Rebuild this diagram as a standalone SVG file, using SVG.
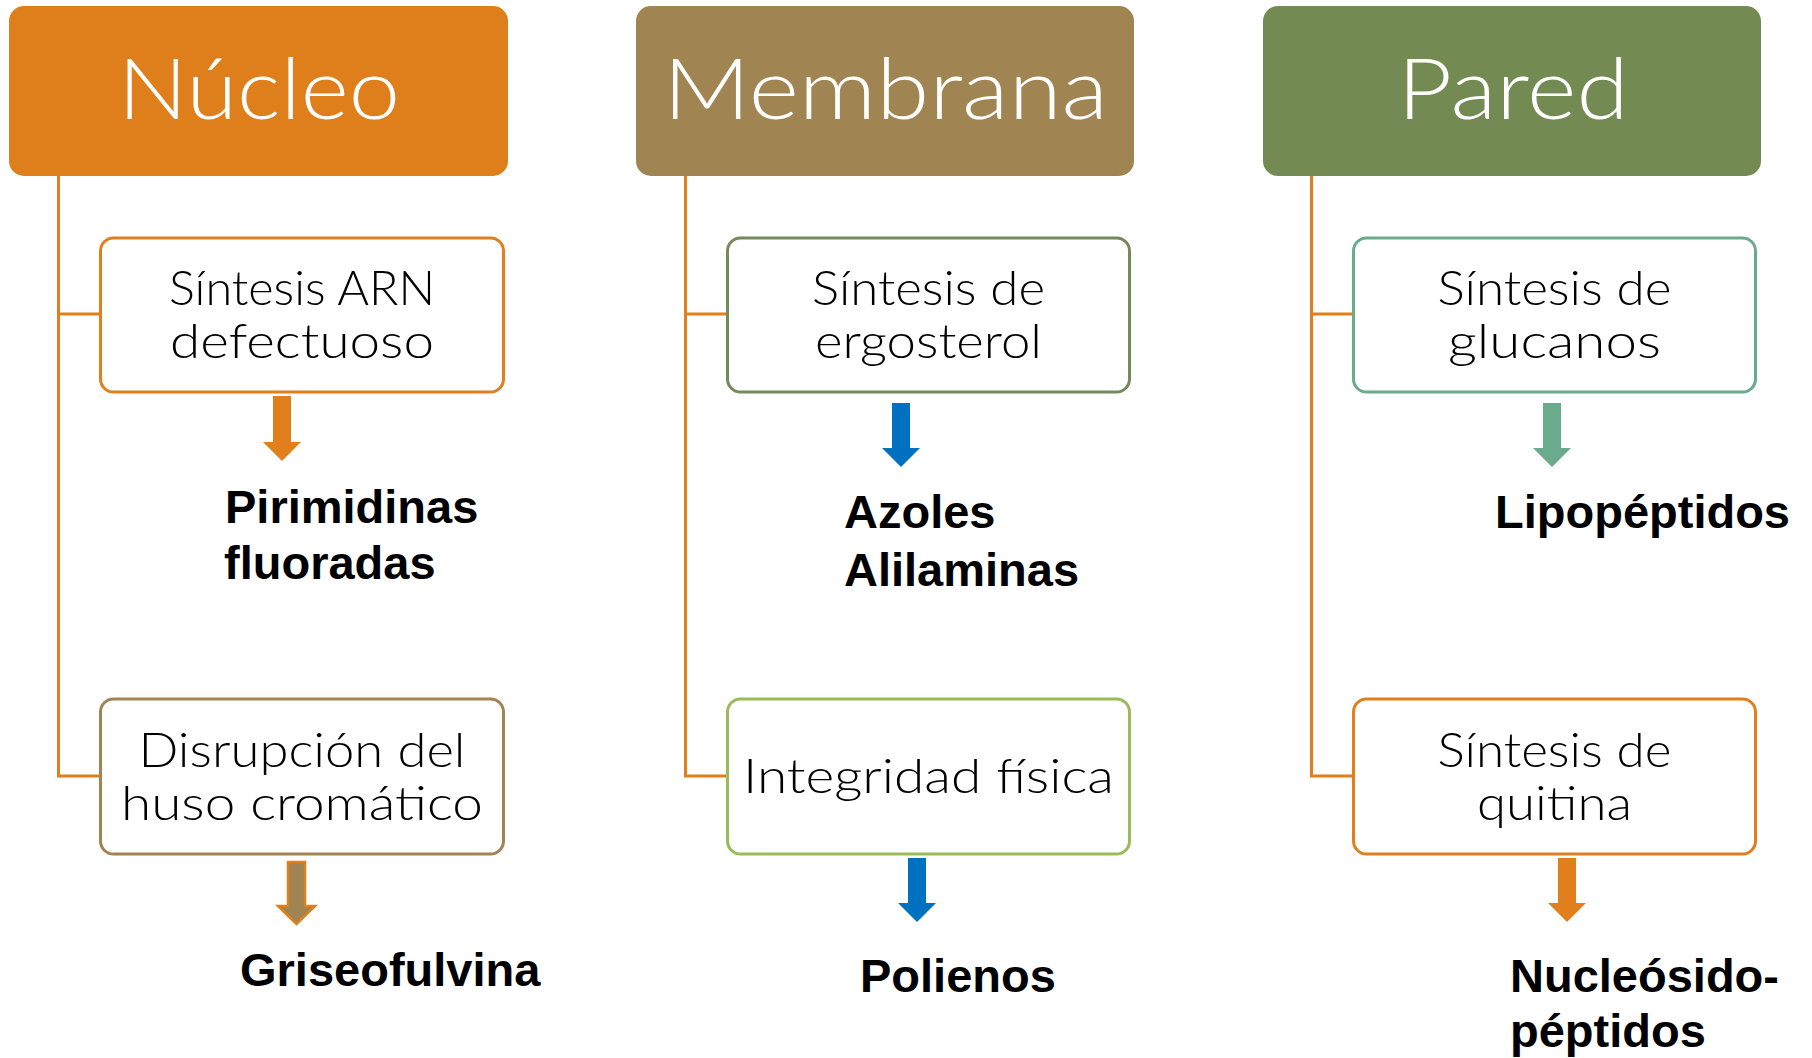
<svg xmlns="http://www.w3.org/2000/svg" width="1812" height="1058" viewBox="0 0 1812 1058">
<style>
.hdr{stroke:none}
.hdrtxt{font-family:Lato,"DejaVu Sans",sans-serif;font-size:84px;font-weight:300;fill:#ffffff;text-anchor:middle}
.box{fill:#ffffff;stroke-width:3}
.btxt{font-family:Lato,"Liberation Sans",sans-serif;font-size:48px;font-weight:300;fill:#000000;text-anchor:middle}
.drug{font-family:"Liberation Sans",Arial,sans-serif;font-size:47px;font-weight:bold;fill:#000000}
.tree{fill:none;stroke:#E07F1C;stroke-width:3}
</style>
<rect width="1812" height="1058" fill="#ffffff"/>

<g id="connectors">
  <path class="tree" d="M58.5,176 V776 H100 M58.5,314 H100"/>
  <path class="tree" d="M685.5,176 V776 H727 M685.5,314 H727"/>
  <path class="tree" d="M1311.5,176 V776 H1353 M1311.5,314 H1353"/>
  <path fill="#E07F1C" d="M273,396 H291 V442 H301 L282,461 L263,442 H273 Z"/>
  <path fill="#A08452" stroke="#E07F1C" stroke-width="2.5" d="M288,862 H305 V906 H315 L296.5,924 L278,906 H288 Z"/>
  <path fill="#0070C0" d="M892,403 H910 V448 H920 L901,467 L882,448 H892 Z"/>
  <path fill="#0070C0" d="M908,858 H926 V903 H936 L917,922 L898,903 H908 Z"/>
  <path fill="#6AAB8E" d="M1543,403 H1561 V448 H1571 L1552,467 L1533,448 H1543 Z"/>
  <path fill="#E07F1C" d="M1558,858 H1576 V903 H1586 L1567,922 L1548,903 H1558 Z"/>
</g>

<g id="nucleo">
  <rect class="hdr" x="9" y="6" width="499" height="170" rx="15" fill="#DF7F1B"/>
  <text class="hdrtxt" x="259" y="119" textLength="282" lengthAdjust="spacingAndGlyphs">Núcleo</text>
</g>
<g id="membrana">
  <rect class="hdr" x="636" y="6" width="498" height="170" rx="15" fill="#A08452"/>
  <text class="hdrtxt" x="885.5" y="119" textLength="445" lengthAdjust="spacingAndGlyphs">Membrana</text>
</g>
<g id="pared">
  <rect class="hdr" x="1263" y="6" width="498" height="170" rx="15" fill="#738A52"/>
  <text class="hdrtxt" x="1513" y="119" textLength="231" lengthAdjust="spacingAndGlyphs">Pared</text>
</g>

<g id="sintesis-arn">
  <rect class="box" x="100.5" y="238" width="403" height="154" rx="13" stroke="#E07F1C"/>
  <text class="btxt" x="302" y="305" textLength="266" lengthAdjust="spacingAndGlyphs">Síntesis ARN</text>
  <text class="btxt" x="302" y="358" textLength="264" lengthAdjust="spacingAndGlyphs">defectuoso</text>
</g>
<g id="disrupcion">
  <rect class="box" x="100.5" y="699" width="403" height="155" rx="13" stroke="#A08452"/>
  <text class="btxt" x="302" y="767" textLength="327" lengthAdjust="spacingAndGlyphs">Disrupción del</text>
  <text class="btxt" x="302" y="820" textLength="362" lengthAdjust="spacingAndGlyphs">huso cromático</text>
</g>
<g id="sintesis-ergosterol">
  <rect class="box" x="727.5" y="238" width="402" height="154" rx="13" stroke="#76895A"/>
  <text class="btxt" x="928.5" y="305" textLength="233" lengthAdjust="spacingAndGlyphs">Síntesis de</text>
  <text class="btxt" x="928.5" y="358" textLength="227" lengthAdjust="spacingAndGlyphs">ergosterol</text>
</g>
<g id="integridad">
  <rect class="box" x="727.5" y="699" width="402" height="155" rx="13" stroke="#9BBB59"/>
  <text class="btxt" x="928.5" y="793" textLength="371" lengthAdjust="spacingAndGlyphs">Integridad física</text>
</g>
<g id="sintesis-glucanos">
  <rect class="box" x="1353.5" y="238" width="402" height="154" rx="13" stroke="#6AAB8E"/>
  <text class="btxt" x="1554.5" y="305" textLength="234" lengthAdjust="spacingAndGlyphs">Síntesis de</text>
  <text class="btxt" x="1554.5" y="358" textLength="213" lengthAdjust="spacingAndGlyphs">glucanos</text>
</g>
<g id="sintesis-quitina">
  <rect class="box" x="1353.5" y="699" width="402" height="155" rx="13" stroke="#E07F1C"/>
  <text class="btxt" x="1554.5" y="767" textLength="234" lengthAdjust="spacingAndGlyphs">Síntesis de</text>
  <text class="btxt" x="1554.5" y="820" textLength="155" lengthAdjust="spacingAndGlyphs">quitina</text>
</g>

<g id="pirimidinas">
  <text class="drug" x="225" y="523">Pirimidinas</text>
  <text class="drug" x="224" y="579">fluoradas</text>
</g>
<g id="griseofulvina">
  <text class="drug" x="240" y="986">Griseofulvina</text>
</g>
<g id="azoles">
  <text class="drug" x="844" y="528">Azoles</text>
  <text class="drug" x="844" y="586">Alilaminas</text>
</g>
<g id="polienos">
  <text class="drug" x="860" y="992">Polienos</text>
</g>
<g id="lipopeptidos">
  <text class="drug" x="1495" y="528">Lipopéptidos</text>
</g>
<g id="nucleosido">
  <text class="drug" x="1510" y="992">Nucleósido-</text>
  <text class="drug" x="1510" y="1047">péptidos</text>
</g>
</svg>
